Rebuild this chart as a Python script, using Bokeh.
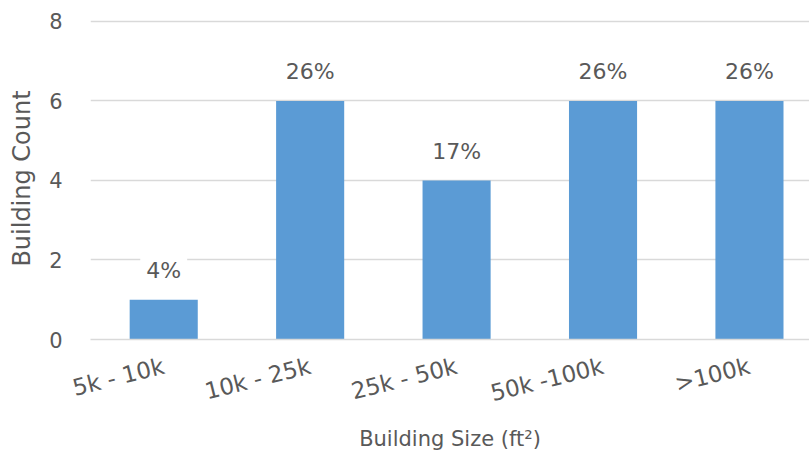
from bokeh.plotting import figure
from bokeh.models import Range1d, FixedTicker, ColumnDataSource
from bokeh.core.properties import value
from bokeh.embed import file_html
from bokeh.resources import INLINE

categories = ["5k - 10k", "10k - 25k", "25k - 50k", "50k -100k", ">100k"]
counts = [1, 6, 4, 6, 6]
shares = ["4%", "26%", "17%", "26%", "26%"]
y_ticks = [0, 2, 4, 6, 8]

FONT = "DejaVu Sans"
TXT = "#595959"

xs = [i + 0.5 for i in range(len(categories))]
src = ColumnDataSource(dict(x=xs, top=counts, label=shares))

p = figure(width=809, height=453, output_backend="svg", toolbar_location=None,
           x_range=Range1d(0, 4.91), y_range=Range1d(0, 8.1),
           min_border_left=90, min_border_right=0, min_border_top=17,
           min_border_bottom=0)
p.outline_line_color = None

p.vbar(x="x", top="top", width=0.465, bottom=0, source=src,
       fill_color="#5B9BD5", line_color=None)
p.text(x="x", y="top", text="label", source=src, text_align="center",
       text_baseline="alphabetic", y_offset=-29, text_font=value(FONT),
       text_font_size="22px", text_color=TXT,
       background_fill_color="white", padding=6)

p.xgrid.grid_line_color = None
p.ygrid.grid_line_color = "#D9D9D9"
p.ygrid.grid_line_width = 1.5

p.yaxis.ticker = FixedTicker(ticks=y_ticks)
p.yaxis.axis_line_color = None
p.yaxis.major_tick_line_color = None
p.yaxis.minor_tick_line_color = None
p.yaxis.major_label_text_font = FONT
p.yaxis.major_label_text_font_size = "21px"
p.yaxis.major_label_text_color = TXT
p.yaxis.major_label_standoff = 22
p.yaxis.axis_label = "Building Count"
p.yaxis.axis_label_text_font = FONT
p.yaxis.axis_label_text_font_size = "24px"
p.yaxis.axis_label_text_font_style = "normal"
p.yaxis.axis_label_text_color = TXT
p.yaxis.axis_label_standoff = 10

p.xaxis.ticker = FixedTicker(ticks=xs)
p.xaxis.major_label_overrides = {x: c for x, c in zip(xs, categories)}
p.xaxis.axis_line_color = "#D9D9D9"
p.xaxis.axis_line_width = 1.5
p.xaxis.major_tick_line_color = None
p.xaxis.minor_tick_line_color = None
p.xaxis.major_label_orientation = 0.245
p.xaxis.major_label_text_font = FONT
p.xaxis.major_label_text_font_size = "23px"
p.xaxis.major_label_text_color = TXT
p.xaxis.major_label_standoff = 20
p.xaxis.axis_label = "Building Size (ft\u00b2)"
p.xaxis.axis_label_text_font = FONT
p.xaxis.axis_label_text_font_size = "21px"
p.xaxis.axis_label_text_font_style = "normal"
p.xaxis.axis_label_text_color = TXT
p.xaxis.axis_label_standoff = 5

open("out.html", "w").write(file_html(p, INLINE))
